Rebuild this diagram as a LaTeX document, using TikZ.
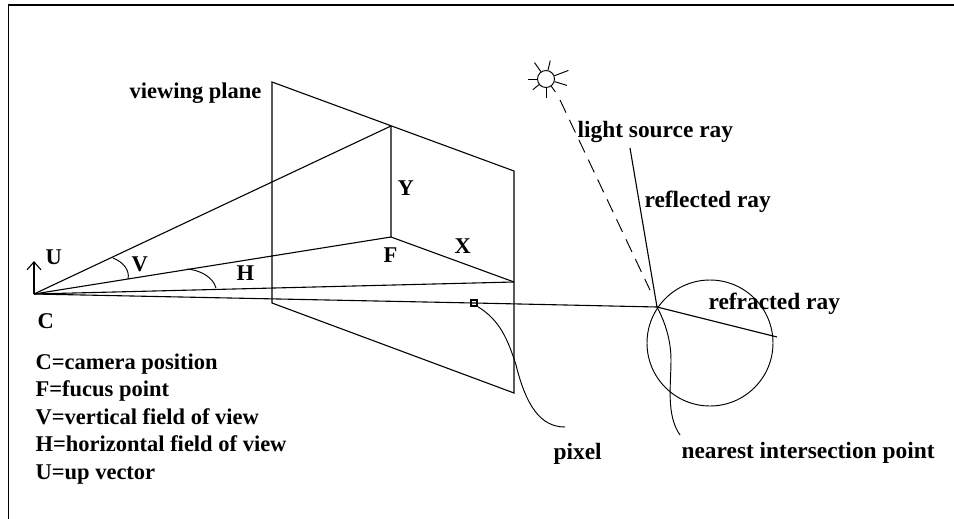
\documentclass[tikz,border=0pt]{standalone}
\usepackage{fontspec}
\setmainfont{Liberation Serif}
\usetikzlibrary{arrows.meta}
\tikzset{
    label text/.style={font=\bfseries\fontsize{22.5}{24}\selectfont, inner sep=0pt, anchor=base west},
    wide text/.style={label text, font=\bfseries\fontsize{23.4}{24}\selectfont},
    ray/.style={line width=1.1pt},
    thin ray/.style={line width=0.95pt}
}

\begin{document}
\begin{tikzpicture}[x=1pt, y=-1pt, line join=miter, ray]

    % Canvas and frame
    \useasboundingbox (0,0) rectangle (954,519);
    \draw[line width=1.4pt] (8.5,519) -- (8.5,5) -- (954,5);

    % Points of the viewing plane
    \coordinate (cam) at (34,294);
    \coordinate (tl) at (272,82);
    \coordinate (tr) at (514,171);
    \coordinate (bl) at (272,303);
    \coordinate (br) at (514,393);
    \coordinate (top) at (391,126);
    \coordinate (focus) at (391,237);
    \coordinate (side) at (514,282);
    \coordinate (px) at (474,303);
    \coordinate (hit) at (657,307);

    % Viewing plane
    \draw (bl) -- (tl) -- (tr) -- (br) -- cycle;
    \draw (top) -- (focus) -- (side);

    % Rays from the camera
    \draw (cam) -- (top);
    \draw (cam) -- (focus);
    \draw (cam) -- (side);
    \draw (cam) -- (px) -- (hit);

    % Up vector
    \coordinate (up) at (34,261);
    \draw[-{Straight Barb[length=8pt,width=14pt]}] (cam) -- (up);

    % Field of view arcs
    \coordinate (v1) at (113,258);
    \coordinate (v2) at (128,279);
    \coordinate (h1) at (187,269);
    \coordinate (h2) at (216,288);
    \draw[thin ray] (v1) .. controls (123,262) and (130,270) .. (v2);
    \draw[thin ray] (h1) .. controls (200,270) and (213,277) .. (h2);

    % Pixel
    \node[draw, minimum size=6pt, inner sep=0pt, line width=1.1pt] (pixel box) at (px) {};
    \coordinate (px end) at (565,427);
    \draw[thin ray] (pixel box.south east) .. controls (500,320) and (508,340) .. (516,365)
        .. controls (526,405) and (540,427) .. (px end);
    \node[wide text] (pixel label) at (553,459) {pixel};

    % Sphere
    \node[draw, circle, minimum size=126pt, inner sep=0pt, thin ray] (sphere) at (710,343) {};
    \coordinate (refr) at (777,337);
    \draw (hit) -- (refr);

    % Secondary rays
    \coordinate (refl) at (630,148);
    \draw (hit) -- (refl);
    \coordinate (hit end) at (680,435);
    \draw[thin ray] (hit) .. controls (665,322) and (671,340) .. (671,360)
        .. controls (671,385) and (666,415) .. (hit end);

    % Sun
    \node[draw, circle, minimum size=17pt, inner sep=0pt, thin ray] (sun) at (546,79) {};
    \foreach \ang/\len in {77/10, 125/11, 180/9, 219/8, 270/10, 306/7, 343/13, 21/15}
        \draw[thin ray] (sun.\ang) -- ++(\ang:\len pt);
    \coordinate (sun ray) at (560,100);
    \coordinate (ray end) at (650,290);
    \draw[thin ray, dash pattern=on 14pt off 8pt] (sun ray) -- (ray end);

    % Labels on the picture
    \node[label text] (plane label) at (129,99) {viewing plane};
    \node[wide text] (light label) at (577,137) {light source ray};
    \node[wide text] (refl label) at (644,207) {reflected ray};
    \node[wide text] (refr label) at (708,309) {refracted ray};
    \node[wide text] (near label) at (681,458) {nearest intersection point};
    \node[label text] (x label) at (454,253) {X};
    \node[label text] (y label) at (397,195) {Y};
    \node[label text] (f label) at (383,262) {F};
    \node[label text] (v label) at (131,271) {V};
    \node[label text] (h label) at (236,280) {H};
    \node[label text] (u label) at (45,264) {U};
    \node[label text] (c label) at (37,328) {C};

    % Legend
    \node[label text] (legend c) at (35,369) {C=camera position};
    \node[label text] (legend f) at (35,396) {F=fucus point};
    \node[label text] (legend v) at (35,424) {V=vertical field of view};
    \node[label text] (legend h) at (35,451) {H=horizontal field of view};
    \node[label text] (legend u) at (35,479) {U=up vector};

\end{tikzpicture}
\end{document}
